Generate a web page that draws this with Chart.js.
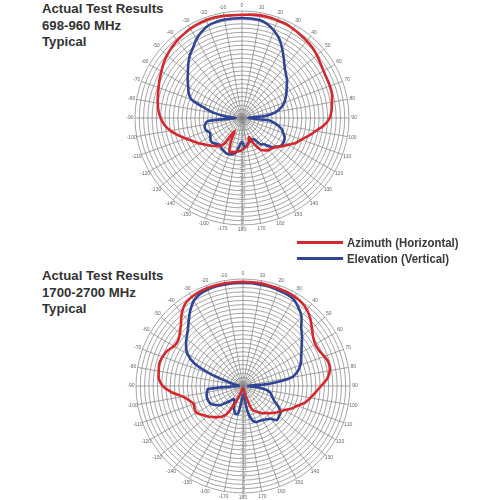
<!DOCTYPE html>
<html>
<head>
<meta charset="utf-8">
<script src="https://cdn.jsdelivr.net/npm/chart.js@4.4.1/dist/chart.umd.min.js"></script>
<style>
  html, body { margin: 0; padding: 0; background: #fff; }
  body { width: 499px; height: 500px; position: relative; overflow: hidden; }
  .title { position: absolute; left: 42px; font: bold 13.2px "Liberation Sans", Arial, sans-serif; color: #333; line-height: 16.5px; }
  .box { position: absolute; width: 234px; height: 234px; }
  .leg { position: absolute; left: 297px; white-space: nowrap; }
  .leg i { display: inline-block; width: 46px; height: 3px; vertical-align: middle; margin-right: 4px; position: relative; top: -1px; }
  .leg span { display: inline-block; font: bold 13.2px "Liberation Sans", sans-serif; color: #3a3a3a; transform: scaleX(0.865); transform-origin: left center; }
</style>
</head>
<body>
<div class="title" style="top:1px">Actual Test Results<br>698-960 MHz<br>Typical</div>
<div class="title" style="top:268px">Actual Test Results<br>1700-2700 MHz<br>Typical</div>
<div class="box" style="left:125px; top:1px"><canvas id="chartTop"></canvas></div>
<div class="box" style="left:126px; top:269px"><canvas id="chartLow"></canvas></div>
<div class="leg" style="top:233px"><i style="background:#d4282d"></i><span>Azimuth (Horizontal)</span></div>
<div class="leg" style="top:249px"><i style="background:#2e4597"></i><span>Elevation (Vertical)</span></div>
<script>
// angle tick labels, every 10 degrees, clockwise from the top
const angleLabels = ['0', '10', '20', '30', '40', '50', '60', '70', '80', '90',
  '100', '110', '120', '130', '140', '150', '160', '170', '180',
  '-170', '-160', '-150', '-140', '-130', '-120', '-110', '-100', '-90',
  '-80', '-70', '-60', '-50', '-40', '-30', '-20', '-10'];

// radial scale in dB
const dbMin = -50;
const dbMax = 0;
const dbStep = 2;

// patterns read every 5 degrees (0, 5, 10 ... 355), values in dB
const topAzimuth = [-1.8, -1.5, -1.3, -1.3, -1.5, -1.5, -2, -2.5, -3, -3.5,
  -4.3, -5.3, -6, -6.3, -6.3, -6.5, -7.3, -8, -9, -11.5,
  -15, -17.8, -20.5, -22.3, -25, -27, -29, -30, -30.5, -31.5,
  -33, -36.5, -40.5, -38, -36.5, -36, -35, -34.5, -34, -33.5,
  -33, -37.5, -43, -35, -33, -31.5, -30, -28.5, -26.5, -24.5,
  -22, -19, -16, -13.5, -12, -10.8, -10, -9.3, -8.5, -7.5,
  -6.5, -5.3, -4.3, -3.5, -2.8, -2.3, -1.8, -1.5, -1.3, -1.3,
  -1.5, -1.8];
const topElevation = [-3.3, -3.3, -3.5, -4.5, -6.5, -9, -12.5, -16, -19, -21,
  -22.5, -24.5, -26, -27.5, -29, -31, -34, -39, -47, -37.5,
  -34, -31, -29.5, -28, -27.5, -27.5, -29, -31, -34, -35,
  -38.5, -39, -38.5, -38, -37, -36.5, -39, -37, -33.5, -32.5,
  -32, -32, -32.5, -33, -33.5, -33, -32, -32, -33, -33.5,
  -32.5, -32, -32.5, -34, -47, -42.5, -37, -32, -25, -22.5,
  -21, -19, -17, -14.5, -12, -10, -7.5, -5.5, -4, -3.5,
  -3.3, -3.3];
const lowAzimuth = [-1.3, -1.3, -1.3, -1.5, -1.5, -1.5, -1.8, -2.3, -3.5, -5.5,
  -8, -10, -11, -10.8, -9.5, -8.5, -8.8, -10.5, -13.5, -16,
  -18, -20, -23, -25, -27.5, -29, -30.5, -32, -33.5, -34.5,
  -36, -37, -39, -45.5, -48, -49, -49, -49, -48.5, -47.5,
  -45.5, -41, -35, -32.5, -31, -29.5, -28, -26.5, -25, -25,
  -25.5, -24, -21.5, -16.5, -12.5, -10.5, -10, -9.5, -10, -11,
  -12.8, -13, -11.5, -9, -5.5, -3, -2, -1.5, -1.3, -1.3,
  -1.3, -1.3];
const lowElevation = [-1.8, -1.8, -2, -2, -2.3, -2.5, -3, -5, -7.5, -11.5,
  -14, -16.5, -18.5, -20, -21.5, -23.5, -27, -37.5, -47.5, -42.5,
  -38.5, -36.5, -35.5, -34, -31, -28.5, -28, -27.5, -30, -31,
  -31.5, -32, -32, -33.5, -38, -45, -46, -43, -37, -36.5,
  -38, -40, -42, -42.5, -41, -39, -36, -34.5, -33, -32.5,
  -32.3, -32.5, -33, -33.5, -47.5, -48, -46, -43, -34.5, -25,
  -20, -17.5, -15.5, -13.5, -10.5, -7, -4, -2.5, -2, -1.8,
  -1.8, -1.8];

const red = '#d4282d';
const blue = '#2e4597';

// one label slot every 5 degrees, text only on the 10 degree ones
let labels = [];
for (let i = 0; i < topAzimuth.length; i++) {
  labels.push(i % 2 === 0 ? angleLabels[i / 2] : '');
}

// tiny labels: angles round the rim, dB values down the 180 spoke
const labelPlugin = {
  id: 'polarLabels',
  afterDraw(chart) {
    const s = chart.scales.r;
    const ctx = chart.ctx;
    ctx.save();
    ctx.fillStyle = '#666';
    ctx.textAlign = 'center';
    ctx.textBaseline = 'middle';
    ctx.font = '5px "Liberation Sans"';
    labels.forEach((lab, i) => {
      if (!lab) return;
      const p = s.getPointPosition(i, s.drawingArea + 5);
      ctx.fillText(lab, p.x, p.y);
    });
    ctx.font = '4px "Liberation Sans"';
    const down = labels.indexOf('180');
    s.ticks.forEach((t, i) => {
      if (i === 0) return;
      const p = s.getPointPositionForValue(down, t.value);
      ctx.fillText(String(t.value), p.x + 0.5, p.y + 2);
    });
    ctx.restore();
  }
};

function makeChart(id, azimuth, elevation) {
  return new Chart(document.getElementById(id), {
    type: 'radar',
    data: {
      labels: labels,
      datasets: [{
        label: 'Azimuth (Horizontal)',
        data: azimuth,
        borderColor: red,
        borderWidth: 2.6,
        fill: false,
        pointRadius: 0,
        tension: 0.25
      }, {
        label: 'Elevation (Vertical)',
        data: elevation,
        borderColor: blue,
        borderWidth: 2.6,
        fill: false,
        pointRadius: 0,
        tension: 0.25
      }]
    },
    options: {
      responsive: true,
      maintainAspectRatio: false,
      animation: false,
      layout: { padding: 10 },
      plugins: { legend: { display: false }, tooltip: { enabled: false } },
      scales: {
        r: {
          min: dbMin,
          max: dbMax,
          ticks: { display: false, stepSize: dbStep },
          pointLabels: { display: false },
          grid: { circular: true, color: '#808080', lineWidth: 0.7 },
          angleLines: {
            color: '#808080',
            lineWidth: (ctx) => (ctx.index % 2 === 0 ? 0.7 : 0)
          }
        }
      }
    },
    plugins: [labelPlugin]
  });
}

makeChart('chartTop', topAzimuth, topElevation);
makeChart('chartLow', lowAzimuth, lowElevation);
</script>
</body>
</html>
